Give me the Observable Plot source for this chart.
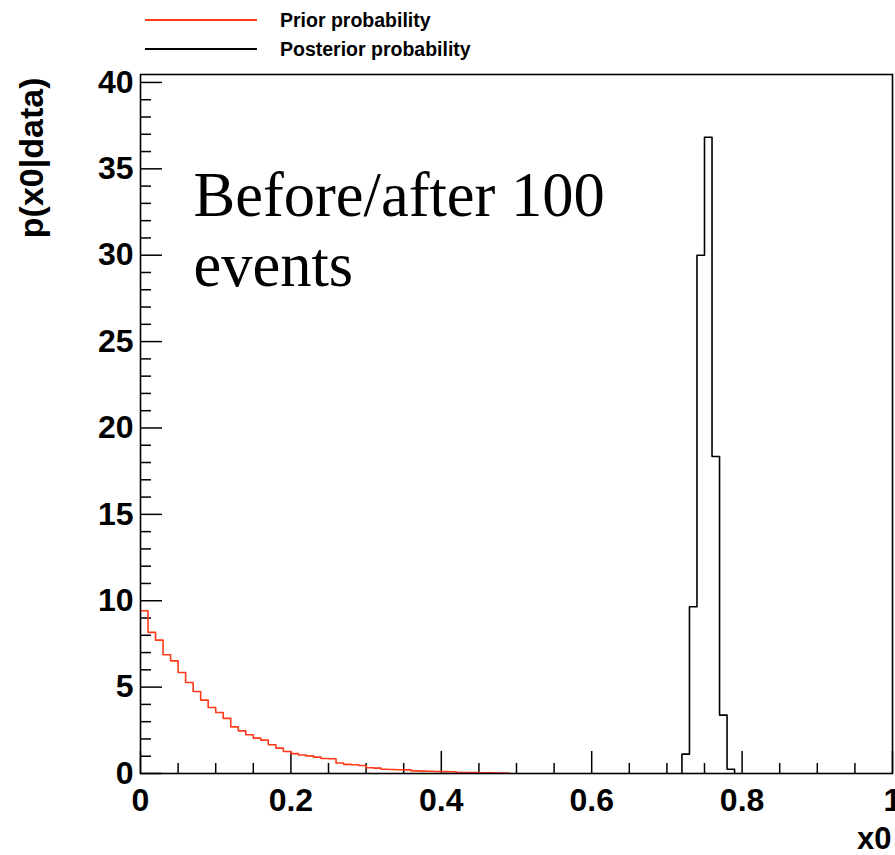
<!DOCTYPE html>
<html>
<head>
<meta charset="utf-8">
<script src="https://cdn.jsdelivr.net/npm/d3@7"></script>
<script src="https://cdn.jsdelivr.net/npm/@observablehq/plot@0.6"></script>
<style>
  html, body { margin: 0; padding: 0; background: #fff; }
  #wrap { position: relative; width: 895px; height: 855px; }
  #legend { position: absolute; left: 0; top: 0; }
</style>
</head>
<body>
<div id="wrap"><div id="chart"></div><svg id="legend" width="895" height="64"></svg></div>
<script>
// ---------- data ----------
const binWidth = 0.01;
const priorStart = 0.0;
const priorValues = [
  9.42, 8.17, 7.72, 6.87, 6.52, 5.85, 5.27, 4.75, 4.25, 3.82,
  3.53, 3.19, 2.70, 2.47, 2.24, 2.05, 1.93, 1.66, 1.47, 1.27,
  1.15, 1.07, 1.02, 0.95, 0.87, 0.85, 0.61, 0.53, 0.51, 0.46,
  0.33, 0.31, 0.25, 0.23, 0.22, 0.21, 0.15, 0.14, 0.13, 0.12,
  0.11, 0.10, 0.06, 0.05, 0.05, 0.04, 0.04, 0.03, 0.03
];
const posteriorStart = 0.72;
const posteriorValues = [1.12, 9.65, 30.0, 36.83, 18.35, 3.38, 0.25];

const seriesNames = ["Prior probability", "Posterior probability"];
const seriesColors = ["#ff3a1a", "#000000"];

const xMajorTicks = [0, 0.2, 0.4, 0.6, 0.8, 1];
const xTickLabels = ["0", "0.2", "0.4", "0.6", "0.8", "1"];
const xMinorTicks = [0.05, 0.1, 0.15, 0.25, 0.3, 0.35, 0.45, 0.5, 0.55, 0.65, 0.7, 0.75, 0.85, 0.9, 0.95];
const yMajorTicks = [0, 5, 10, 15, 20, 25, 30, 35, 40];
const yMinorTicks = [1,2,3,4,6,7,8,9,11,12,13,14,16,17,18,19,21,22,23,24,26,27,28,29,31,32,33,34,36,37,38,39];
const xDomain = [0, 1];
const yDomain = [0, 40.46];

const xTitle = "x0";
const yTitle = "p(x0|data)";
const annotationLines = ["Before/after 100", "events"];

// ---------- build step outlines ----------
function stepPoints(start, values, closeStart, closeEnd) {
  const pts = [];
  if (closeStart) pts.push({x: start, y: 0});
  values.forEach((v, i) => {
    const x0 = +(start + i * binWidth).toFixed(4);
    const x1 = +(start + (i + 1) * binWidth).toFixed(4);
    pts.push({x: x0, y: v}, {x: x1, y: v});
  });
  if (closeEnd) pts.push({x: +(start + values.length * binWidth).toFixed(4), y: 0});
  return pts;
}
const priorPts = stepPoints(priorStart, priorValues, false, false);
const posteriorPts = stepPoints(posteriorStart, posteriorValues, true, true);

// ---------- layout ----------
const W = 895, H = 855, ML = 140, MR = 3, MT = 74, MB = 82;
const FW = W - ML - MR, FH = H - MT - MB;
const sans = "'Liberation Sans', Arial, Helvetica, sans-serif";
const serif = "'Liberation Serif', 'Times New Roman', Times, serif";

const chart = Plot.plot({
  width: W, height: H,
  marginLeft: ML, marginRight: MR, marginTop: MT, marginBottom: MB,
  x: {domain: xDomain},
  y: {domain: yDomain},
  style: {fontFamily: sans, fontWeight: "bold", fontSize: "31px", background: "white", color: "black"},
  marks: [
    Plot.tickX(xMinorTicks, {x: d => d, insetTop: FH - 10, stroke: "black", strokeWidth: 1.5}),
    Plot.tickX(xMajorTicks, {x: d => d, insetTop: FH - 22, stroke: "black", strokeWidth: 1.5}),
    Plot.tickY(yMinorTicks, {y: d => d, insetRight: FW - 11, stroke: "black", strokeWidth: 1.5}),
    Plot.tickY(yMajorTicks, {y: d => d, insetRight: FW - 22, stroke: "black", strokeWidth: 1.5}),
    Plot.axisX(xMajorTicks, {tickSize: 0, tickPadding: 15, label: null,
      tickFormat: d => xTickLabels[xMajorTicks.indexOf(d)], fontSize: 32, fontWeight: "bold"}),
    Plot.axisY(yMajorTicks, {tickSize: 0, tickPadding: 7, label: null, fontSize: 32, fontWeight: "bold"}),
    Plot.line(priorPts, {x: "x", y: "y", stroke: seriesColors[0], strokeWidth: 1.6}),
    Plot.line(posteriorPts, {x: "x", y: "y", stroke: seriesColors[1], strokeWidth: 1.6}),
    Plot.frame({stroke: "black", strokeWidth: 1.6}),
    Plot.text([annotationLines.join("\n")], {frameAnchor: "top-left", textAnchor: "start", lineAnchor: "top",
      dx: 53, dy: 91, fontFamily: serif, fontSize: 62.5, fontWeight: "normal", lineHeight: 1.13, fill: "black"}),
    Plot.text([yTitle], {frameAnchor: "top-left", rotate: -90, textAnchor: "end", lineAnchor: "middle",
      dx: -108, dy: 3, fontSize: 34, fontWeight: "bold", fill: "black"}),
    Plot.text([xTitle], {frameAnchor: "bottom-right", textAnchor: "end", lineAnchor: "middle",
      dx: -1, dy: 66, fontSize: 31, fontWeight: "bold", fill: "black"})
  ]
});
document.getElementById("chart").appendChild(chart);

// ---------- legend (above the frame) ----------
const leg = d3.select("#legend");
const legY = [20, 49];
seriesNames.forEach((name, i) => {
  leg.append("line").attr("x1", 145).attr("x2", 257).attr("y1", legY[i]).attr("y2", legY[i])
    .attr("stroke", seriesColors[i]).attr("stroke-width", 1.8);
  leg.append("text").attr("x", 280).attr("y", legY[i]).attr("dy", "0.35em")
    .attr("font-family", sans).attr("font-weight", "bold").attr("font-size", 19.5)
    .attr("fill", "black").text(name);
});
</script>
</body>
</html>
